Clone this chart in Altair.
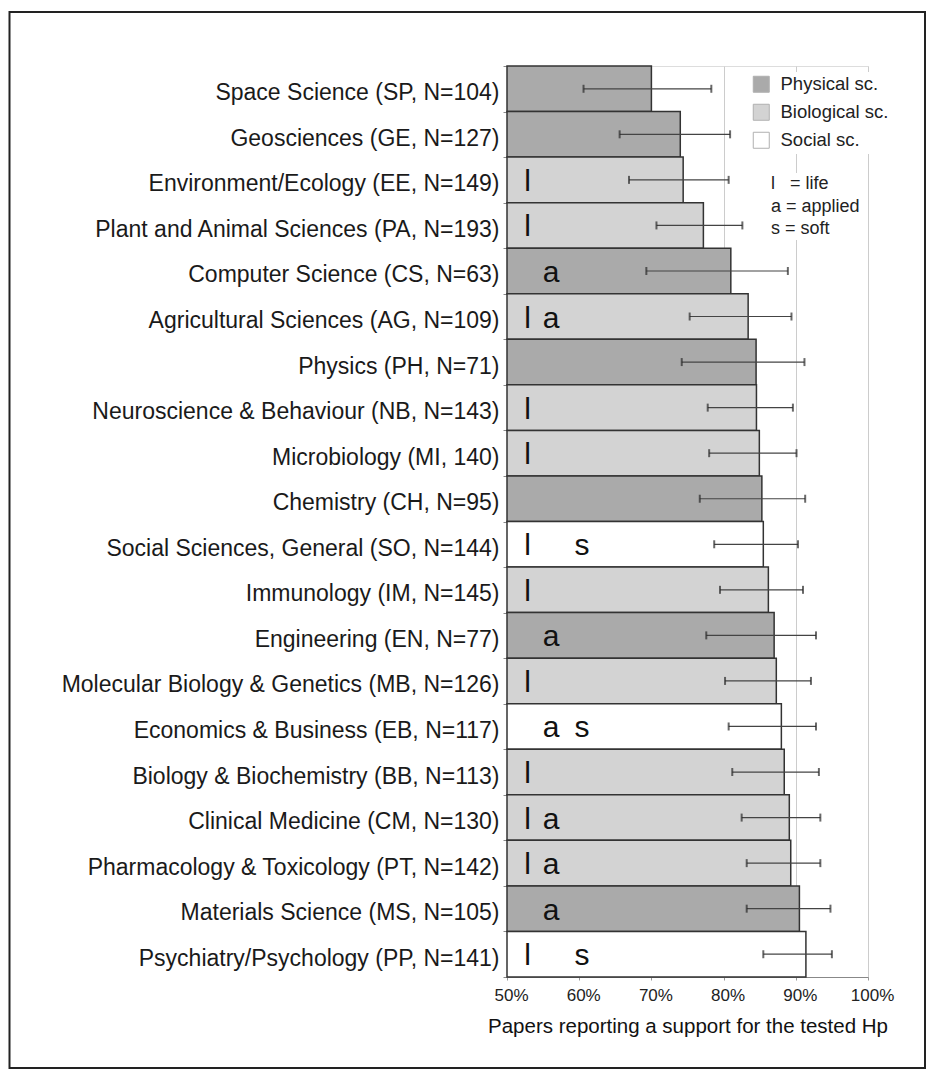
import altair as alt
import pandas as pd

FONT = "Liberation Sans"

names = [
    "Space Science (SP, N=104)",
    "Geosciences (GE, N=127)",
    "Environment/Ecology (EE, N=149)",
    "Plant and Animal Sciences (PA, N=193)",
    "Computer Science (CS, N=63)",
    "Agricultural Sciences (AG, N=109)",
    "Physics (PH, N=71)",
    "Neuroscience & Behaviour (NB, N=143)",
    "Microbiology (MI, 140)",
    "Chemistry (CH, N=95)",
    "Social Sciences, General (SO, N=144)",
    "Immunology (IM, N=145)",
    "Engineering (EN, N=77)",
    "Molecular Biology & Genetics (MB, N=126)",
    "Economics & Business (EB, N=117)",
    "Biology & Biochemistry (BB, N=113)",
    "Clinical Medicine (CM, N=130)",
    "Pharmacology & Toxicology (PT, N=142)",
    "Materials Science (MS, N=105)",
    "Psychiatry/Psychology (PP, N=141)",
]
groups = [
    "Physical sc.", "Physical sc.", "Biological sc.", "Biological sc.", "Physical sc.",
    "Biological sc.", "Physical sc.", "Biological sc.", "Biological sc.", "Physical sc.",
    "Social sc.", "Biological sc.", "Physical sc.", "Biological sc.", "Social sc.",
    "Biological sc.", "Biological sc.", "Biological sc.", "Physical sc.", "Social sc.",
]
support = [70.0, 74.0, 74.4, 77.2, 81.0, 83.4, 84.5, 84.55, 84.95, 85.3,
           85.5, 86.2, 87.0, 87.3, 88.0, 88.4, 89.1, 89.3, 90.5, 91.4]
ci_low = [60.6, 65.6, 66.9, 70.7, 69.3, 75.3, 74.2, 77.8, 78.0, 76.7,
          78.7, 79.5, 77.6, 80.2, 80.7, 81.2, 82.5, 83.2, 83.2, 85.5]
ci_high = [78.3, 80.9, 80.7, 82.6, 88.9, 89.4, 91.2, 89.6, 90.1, 91.3,
           90.3, 91.0, 92.8, 92.1, 92.8, 93.2, 93.4, 93.4, 94.8, 95.0]
life = [0, 0, 1, 1, 0, 1, 0, 1, 1, 0, 1, 1, 0, 1, 0, 1, 1, 1, 0, 1]
applied = [0, 0, 0, 0, 1, 1, 0, 0, 0, 0, 0, 0, 1, 0, 1, 0, 1, 1, 1, 0]
soft = [0, 0, 0, 0, 0, 0, 0, 0, 0, 0, 1, 0, 0, 0, 1, 0, 0, 0, 0, 1]

group_domain = ["Physical sc.", "Biological sc.", "Social sc."]
group_colors = ["#aaaaaa", "#d3d3d3", "#ffffff"]
key_lines = ["l\u00a0\u00a0\u00a0= life", "a = applied", "s = soft"]
x_ticks = list(range(50, 101, 5))
x_title = "Papers reporting a support for the tested Hp"

df = pd.DataFrame({
    "name": names, "group": groups, "support": support,
    "lo": ci_low, "hi": ci_high,
    "life": life, "applied": applied, "soft": soft,
})

yscale = alt.Scale(paddingInner=0, paddingOuter=0)
xscale = alt.Scale(domain=[50, 100], nice=False, zero=False)

Y = alt.Y(
    "name:N", sort=names, scale=yscale,
    axis=alt.Axis(
        title=None, labelFontSize=23, labelFont=FONT, labelColor="#1a1a1a",
        labelLimit=600, tickBand="extent", tickSize=4, tickColor="#888888",
        domainColor="#888888", labelPadding=4, labelOffset=4, grid=False,
    ),
)
X = alt.X(
    "support:Q", scale=xscale,
    axis=alt.Axis(
        values=x_ticks,
        labelExpr="datum.value % 10 == 0 ? datum.value + '%' : ''",
        labelFlush=False, labelOverlap=False,
        grid=True, gridColor="#cccccc", gridWidth=1,
        tickSize=3, tickColor="#999999", domainColor="#888888",
        labelFontSize=17, labelFont=FONT, labelColor="#222222",
        labelPadding=7, labelOffset=4,
        title=x_title, titleFont=FONT, titleFontSize=20.5,
        titleFontWeight="normal", titleColor="#111111", titlePadding=13,
    ),
)

base = alt.Chart(df)

bars = base.mark_bar(stroke="#333333", strokeWidth=1.5).encode(
    y=Y,
    x=X,
    x2=alt.datum(50),
    color=alt.Color(
        "group:N",
        scale=alt.Scale(domain=group_domain, range=group_colors),
        legend=alt.Legend(
            title=None, orient="none", legendX=242, legendY=6,
            symbolType="square", symbolSize=256, symbolStrokeColor="#b0b0b0",
            symbolStrokeWidth=1, labelFont=FONT, labelFontSize=18.5,
            labelColor="#222222", labelOffset=10, rowPadding=7,
            fillColor="white", padding=3,
        ),
    ),
)

err = base.mark_rule(color="#444444", strokeWidth=1.2).encode(
    y=alt.Y("name:N", sort=names, scale=yscale),
    x=alt.X("lo:Q", scale=xscale),
    x2="hi:Q",
)
cap_lo = base.mark_tick(color="#2a2a2a", size=8, thickness=2).encode(
    y=alt.Y("name:N", sort=names, scale=yscale),
    x=alt.X("lo:Q", scale=xscale),
)
cap_hi = base.mark_tick(color="#2a2a2a", size=8, thickness=2).encode(
    y=alt.Y("name:N", sort=names, scale=yscale),
    x=alt.X("hi:Q", scale=xscale),
)

def letter(flag, ch, xpos):
    return base.transform_filter(alt.datum[flag] == 1).mark_text(
        text=ch, font=FONT, fontSize=30, color="#111111",
        align="center", baseline="alphabetic", dy=11,
    ).encode(
        y=alt.Y("name:N", sort=names, scale=yscale),
        x=alt.value(xpos),
    )

l_txt = letter("life", "l", 20.5)
a_txt = letter("applied", "a", 44)
s_txt = letter("soft", "s", 75)

key_df = pd.DataFrame({"key": key_lines})
key_legend = alt.Chart(key_df).mark_point(opacity=0, size=0).encode(
    shape=alt.Shape(
        "key:N", scale=alt.Scale(domain=key_lines),
        legend=alt.Legend(
            title=None, orient="none", legendX=244, legendY=107,
            symbolSize=0, symbolOpacity=0, symbolStrokeWidth=0,
            labelFont=FONT, labelFontSize=18, labelColor="#222222",
            labelOffset=0, rowPadding=4.5, fillColor="white", padding=2,
        ),
    ),
)

frame = alt.Chart(alt.Data(values=[{"f": 1}])).mark_rect(
    fillOpacity=0, stroke="#222222", strokeWidth=2
).encode(
    x=alt.value(-497.5), x2=alt.value(418),
    y=alt.value(-54), y2=alt.value(1002),
)

chart = alt.layer(
    bars, err, cap_lo, cap_hi, l_txt, a_txt, s_txt, key_legend, frame
).resolve_scale(color="independent", shape="independent").properties(
    width=361, height=911,
    autosize=alt.AutoSizeParams(type="none"),
    padding={"left": 499, "top": 58, "right": 58, "bottom": 92},
    background="white",
).configure_view(stroke=None).configure(font=FONT)

chart.save("out.html", embed_options={"renderer": "svg", "actions": False})
